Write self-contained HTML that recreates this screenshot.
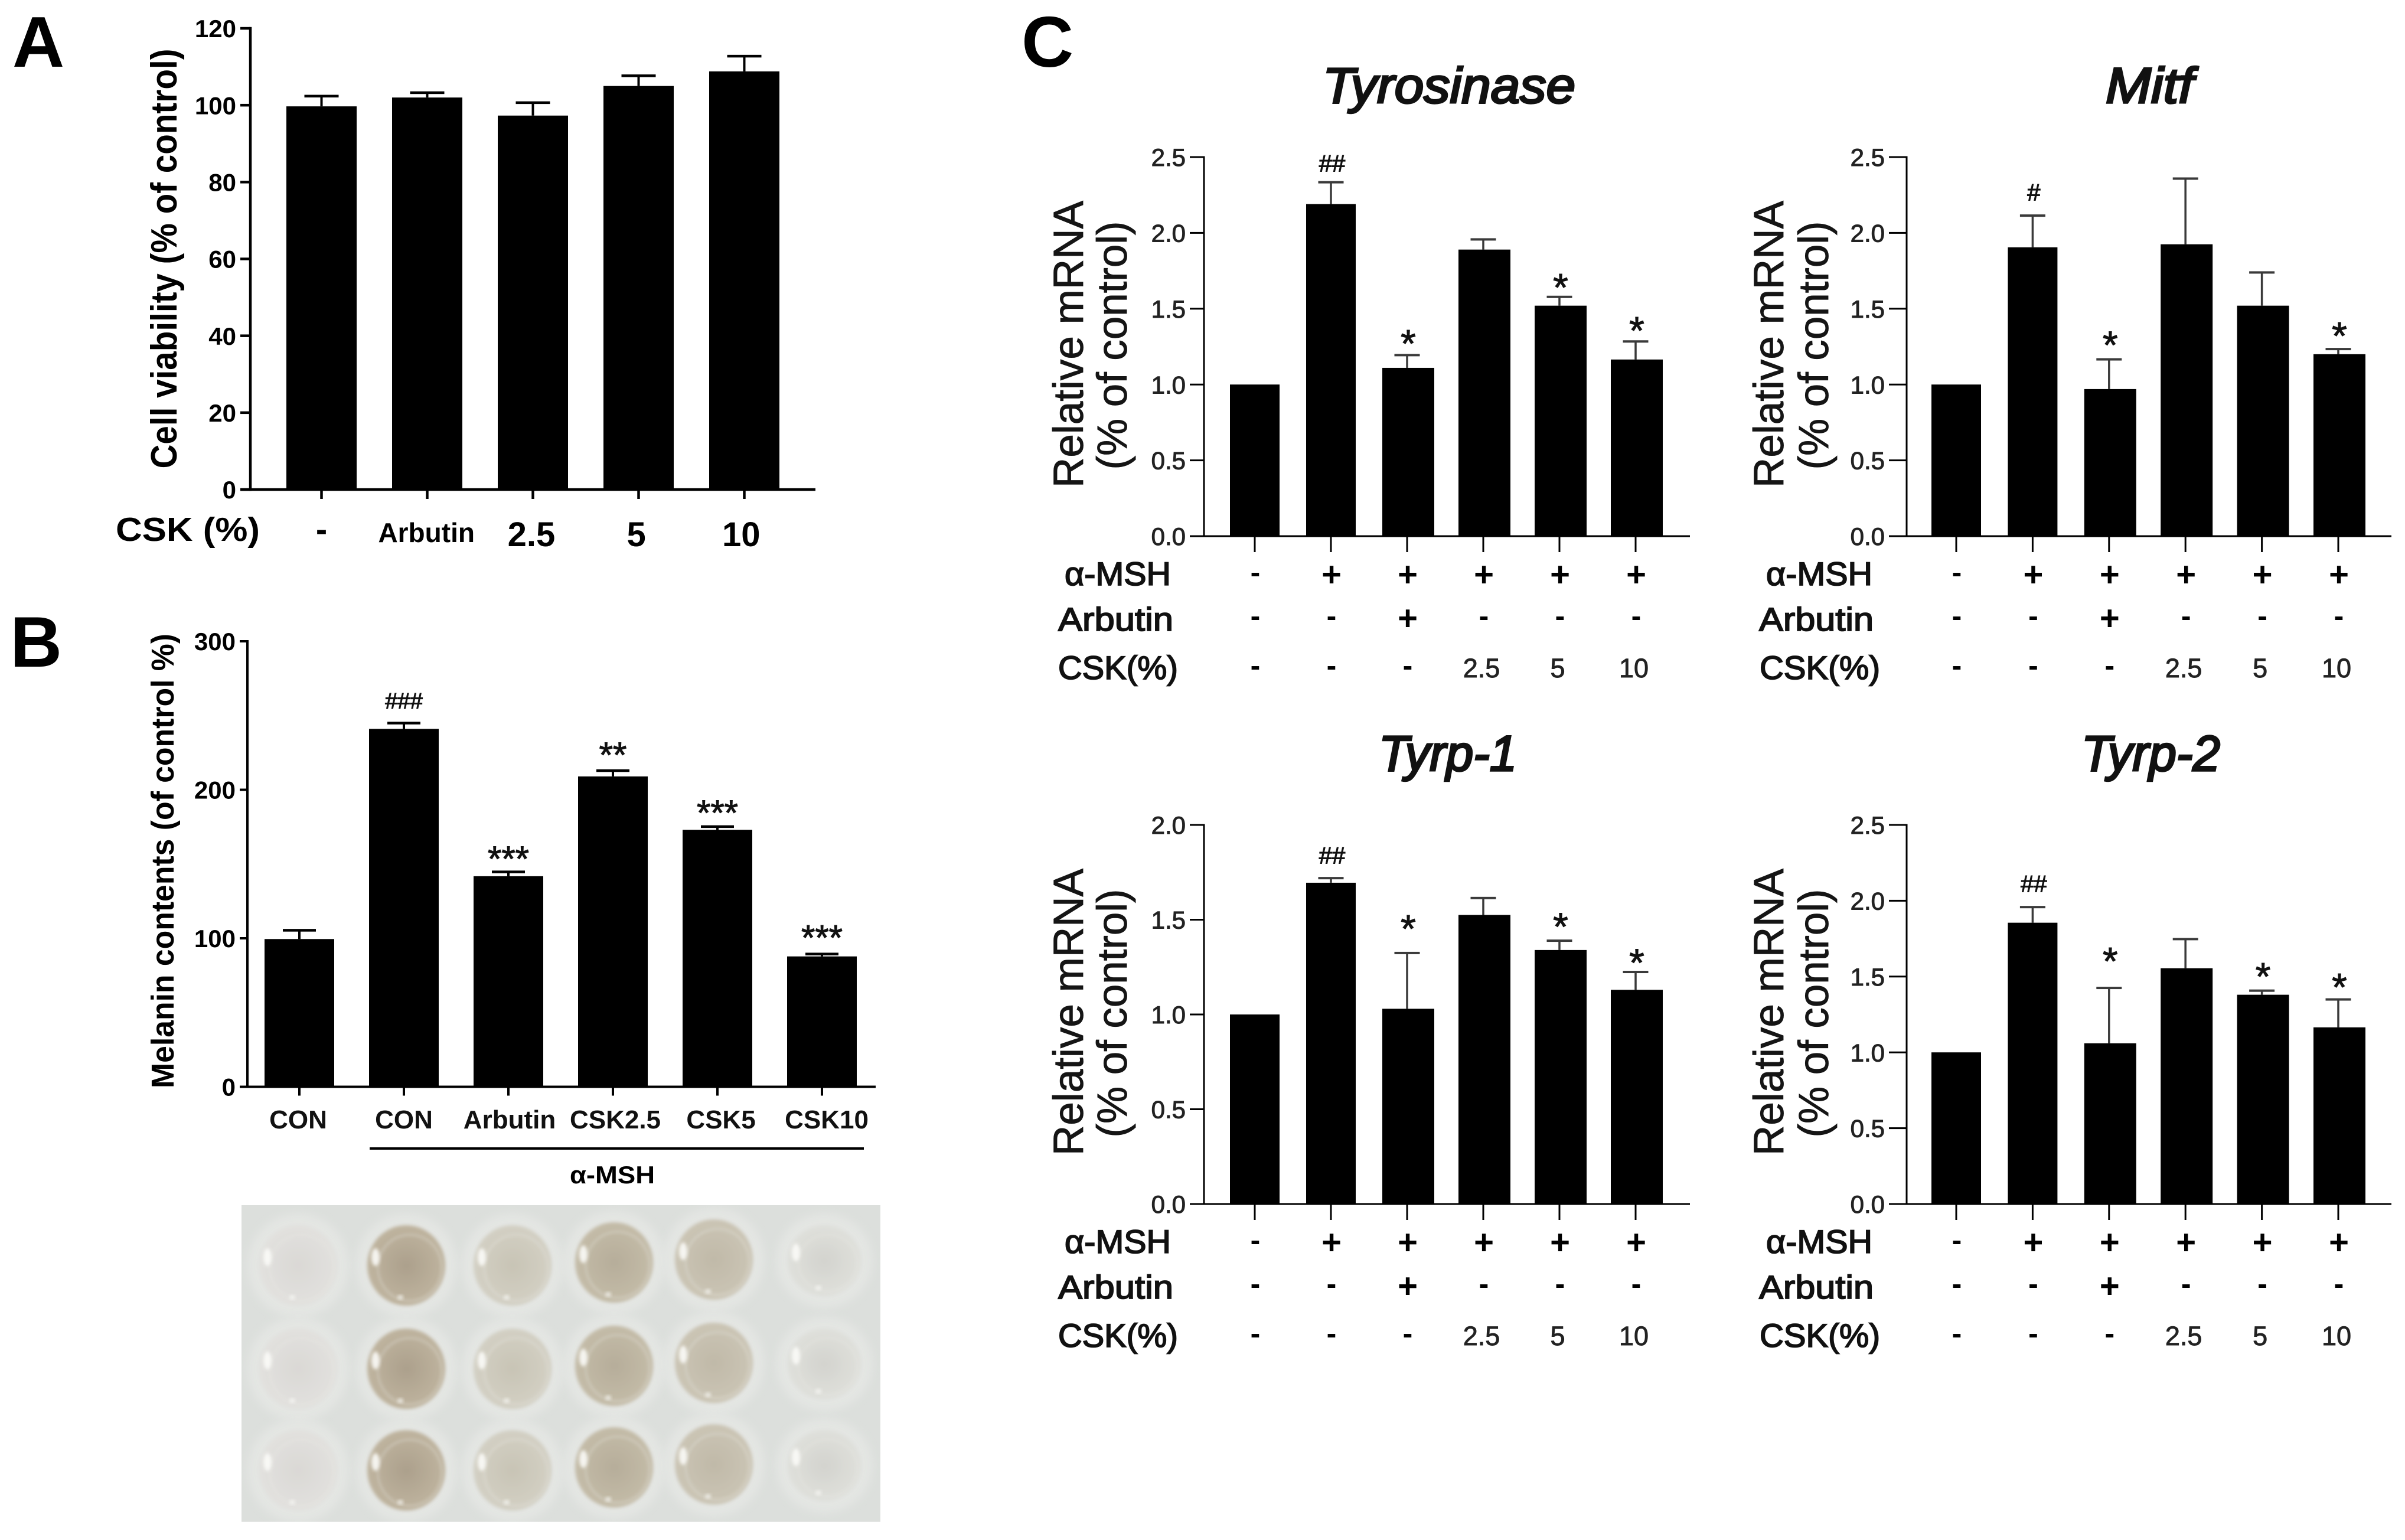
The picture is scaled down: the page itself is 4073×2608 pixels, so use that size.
<!DOCTYPE html>
<html lang="en">
<head>
<meta charset="utf-8">
<title>CSK cell viability, melanin content and mRNA expression</title>
<style>
  html,body{margin:0;padding:0;background:#fff;}
  svg{display:block;}
  text{font-family:"Liberation Sans",Arial,sans-serif;fill:#000;}
  .panel-letter{font-weight:bold;font-size:122px;}
  .bold-title{font-weight:bold;}
  .gene-title{font-style:italic;font-size:84px;fill:#111;stroke:#111;stroke-width:3.4px;}
  .mrna-axis{font-size:71px;fill:#151515;stroke:#151515;stroke-width:.9px;}
  .row-label{font-size:56px;fill:#111;stroke:#111;stroke-width:1.8px;}
</style>
</head>
<body>
<svg id="figure" xmlns="http://www.w3.org/2000/svg" width="4073" height="2608" viewBox="0 0 4073 2608">
  <defs>
    <filter id="soft" x="-30%" y="-30%" width="160%" height="160%"><feGaussianBlur stdDeviation="3"/></filter>
    <filter id="softer" x="-30%" y="-30%" width="160%" height="160%"><feGaussianBlur stdDeviation="7"/></filter>
    <clipPath id="photo-clip"><rect x="409" y="2041" width="1082" height="536"/></clipPath>
  </defs>
  <rect width="4073" height="2608" fill="#fff"/>

  <text class="panel-letter" x="21" y="113">A</text>
  <text class="panel-letter" x="17" y="1129">B</text>
  <text class="panel-letter" x="1730" y="113">C</text>

  <g id="panel-a">
    <text class="bold-title" font-size="62" text-anchor="middle" textLength="711" lengthAdjust="spacingAndGlyphs" transform="translate(299,438) rotate(-90)">Cell viability (% of control)</text>
    <text class="bold-title" font-size="57" x="196" y="916" textLength="244" lengthAdjust="spacingAndGlyphs">CSK (%)</text>
  </g>

  <g id="panel-b">
    <text class="bold-title" font-size="54" text-anchor="middle" textLength="770" lengthAdjust="spacingAndGlyphs" transform="translate(294,1458) rotate(-90)">Melanin contents (of control %)</text>
    <rect x="626" y="1943" width="837" height="4" fill="#000"/>
    <text class="bold-title" font-size="42" x="1037" y="2004" text-anchor="middle" textLength="144" lengthAdjust="spacingAndGlyphs">α-MSH</text>
  </g>

  <g id="well-photo" clip-path="url(#photo-clip)">
    <rect x="409" y="2041" width="1082" height="536" fill="#dcdfdc"/>
  </g>

  <g id="panel-tyrosinase">
    <text class="gene-title" x="2240" y="174" textLength="428" lengthAdjust="spacingAndGlyphs">Tyrosinase</text>
    <text class="mrna-axis" text-anchor="middle" textLength="486" lengthAdjust="spacingAndGlyphs" transform="translate(1834,583) rotate(-90)">Relative mRNA</text>
    <text class="mrna-axis" text-anchor="middle" textLength="421" lengthAdjust="spacingAndGlyphs" transform="translate(1908,585) rotate(-90)">(% of control)</text>
    <text class="row-label" x="1803" y="991" textLength="180" lengthAdjust="spacingAndGlyphs">α-MSH</text>
    <text class="row-label" x="1792" y="1068" textLength="195" lengthAdjust="spacingAndGlyphs">Arbutin</text>
    <text class="row-label" x="1792" y="1150" textLength="203" lengthAdjust="spacingAndGlyphs">CSK(%)</text>
  </g>

  <g id="panel-mitf">
    <text class="gene-title" x="3566" y="174" textLength="149" lengthAdjust="spacingAndGlyphs">Mitf</text>
    <text class="mrna-axis" text-anchor="middle" textLength="486" lengthAdjust="spacingAndGlyphs" transform="translate(3020,583) rotate(-90)">Relative mRNA</text>
    <text class="mrna-axis" text-anchor="middle" textLength="421" lengthAdjust="spacingAndGlyphs" transform="translate(3096,585) rotate(-90)">(% of control)</text>
    <text class="row-label" x="2991" y="991" textLength="180" lengthAdjust="spacingAndGlyphs">α-MSH</text>
    <text class="row-label" x="2979" y="1068" textLength="194" lengthAdjust="spacingAndGlyphs">Arbutin</text>
    <text class="row-label" x="2980" y="1150" textLength="204" lengthAdjust="spacingAndGlyphs">CSK(%)</text>
  </g>

  <g id="panel-tyrp1">
    <text class="gene-title" x="2335" y="1305" textLength="234" lengthAdjust="spacingAndGlyphs">Tyrp-1</text>
    <text class="mrna-axis" text-anchor="middle" textLength="486" lengthAdjust="spacingAndGlyphs" transform="translate(1834,1714) rotate(-90)">Relative mRNA</text>
    <text class="mrna-axis" text-anchor="middle" textLength="421" lengthAdjust="spacingAndGlyphs" transform="translate(1908,1716) rotate(-90)">(% of control)</text>
    <text class="row-label" x="1803" y="2122" textLength="180" lengthAdjust="spacingAndGlyphs">α-MSH</text>
    <text class="row-label" x="1792" y="2199" textLength="195" lengthAdjust="spacingAndGlyphs">Arbutin</text>
    <text class="row-label" x="1792" y="2281" textLength="203" lengthAdjust="spacingAndGlyphs">CSK(%)</text>
  </g>

  <g id="panel-tyrp2">
    <text class="gene-title" x="3525" y="1305" textLength="235" lengthAdjust="spacingAndGlyphs">Tyrp-2</text>
    <text class="mrna-axis" text-anchor="middle" textLength="486" lengthAdjust="spacingAndGlyphs" transform="translate(3020,1714) rotate(-90)">Relative mRNA</text>
    <text class="mrna-axis" text-anchor="middle" textLength="421" lengthAdjust="spacingAndGlyphs" transform="translate(3096,1716) rotate(-90)">(% of control)</text>
    <text class="row-label" x="2991" y="2122" textLength="180" lengthAdjust="spacingAndGlyphs">α-MSH</text>
    <text class="row-label" x="2979" y="2199" textLength="194" lengthAdjust="spacingAndGlyphs">Arbutin</text>
    <text class="row-label" x="2980" y="2281" textLength="204" lengthAdjust="spacingAndGlyphs">CSK(%)</text>
  </g>
</svg>

<script>
// ---------- chart data ----------
const viabilityCategories = ['-', 'Arbutin', '2.5', '5', '10'];
const viabilityValues = [99.7, 102, 97.3, 105, 108.8];
const viabilityErrors = [2.7, 1.3, 3.4, 2.7, 4.0];
const viabilityTicks = ['0', '20', '40', '60', '80', '100', '120'];

const melaninCategories = ['CON', 'CON', 'Arbutin', 'CSK2.5', 'CSK5', 'CSK10'];
const melaninValues = [99.5, 241, 141.8, 209, 173, 87.8];
const melaninErrors = [6, 4, 3, 4, 2.3, 1.7];
const melaninTicks = ['0', '100', '200', '300'];
const melaninMarks = ['', '###', '***', '**', '***', '***'];
const melaninMarkLevels = [0, 260, 159, 229, 190, 106];

const alphaMshRow = ['-', '+', '+', '+', '+', '+'];
const arbutinRow = ['-', '-', '+', '-', '-', '-'];
const cskRow = ['-', '-', '-', '2.5', '5', '10'];

const tyrosinaseValues = [1.0, 2.19, 1.11, 1.89, 1.52, 1.165];
const tyrosinaseErrors = [0, 0.145, 0.085, 0.068, 0.059, 0.12];
const tyrosinaseTicks = ['0.0', '0.5', '1.0', '1.5', '2.0', '2.5'];
const tyrosinaseMarks = ['', '##', '*', '', '*', '*'];
const tyrosinaseMarkLevels = [0, 2.46, 1.33, 0, 1.70, 1.415];

const mitfValues = [1.0, 1.905, 0.97, 1.925, 1.52, 1.2];
const mitfErrors = [0, 0.21, 0.197, 0.434, 0.22, 0.035];
const mitfTicks = ['0.0', '0.5', '1.0', '1.5', '2.0', '2.5'];
const mitfMarks = ['', '#', '*', '', '', '*'];
const mitfMarkLevels = [0, 2.268, 1.32, 0, 0, 1.38];

const tyrp1Values = [1.0, 1.695, 1.03, 1.525, 1.34, 1.13];
const tyrp1Errors = [0, 0.025, 0.295, 0.09, 0.05, 0.095];
const tyrp1Ticks = ['0.0', '0.5', '1.0', '1.5', '2.0'];
const tyrp1Marks = ['', '##', '*', '', '*', '*'];
const tyrp1MarkLevels = [0, 1.84, 1.50, 0, 1.51, 1.32];

const tyrp2Values = [1.0, 1.855, 1.06, 1.555, 1.38, 1.165];
const tyrp2Errors = [0, 0.104, 0.366, 0.193, 0.028, 0.185];
const tyrp2Ticks = ['0.0', '0.5', '1.0', '1.5', '2.0', '2.5'];
const tyrp2Marks = ['', '##', '*', '', '*', '*'];
const tyrp2MarkLevels = [0, 2.112, 1.66, 0, 1.56, 1.49];

// ---------- helpers ----------
const SVGNS = 'http://www.w3.org/2000/svg';
function add(parent, tag, attrs, text) {
  const el = document.createElementNS(SVGNS, tag);
  for (const k in attrs) el.setAttribute(k, attrs[k]);
  if (text !== undefined) el.textContent = text;
  parent.appendChild(el);
  return el;
}

function drawAxes(g, c, ticks) {
  const y = v => c.yBottom - (v / c.yMax) * (c.yBottom - c.yTop);
  const x = i => c.xFirst + i * c.xStep;
  const yAxis = add(g, 'rect', {x: c.axisX - c.lw / 2, y: c.yTop - c.lw / 2, width: c.lw, height: c.yBottom - c.yTop + c.lw, fill: '#000'});
  
  
  const xAxis = add(g, 'rect', {x: c.xAxisStart, y: c.yBottom - c.lw / 2, width: c.xAxisEnd - c.xAxisStart, height: c.lw, fill: '#000'});
  
  
  ticks.forEach(label => {
    const v = Number(label);
    const tick = add(g, 'rect', {x: c.xAxisStart, y: y(v) - c.lw / 2, width: c.axisX - c.xAxisStart, height: c.lw, fill: '#000'});
    
    
    const tl = add(g, 'text', Object.assign({x: c.xAxisStart - 7, y: y(v) + c.tickFont * 0.36, 'text-anchor': 'end', 'font-size': c.tickFont, style: c.tickStyle}), label);
    
    
  });
  for (let i = 0; i < c.count; i++) {
    const tick = add(g, 'rect', {x: x(i) - c.lw / 2, y: c.yBottom, width: c.lw, height: c.tickLen, fill: '#000'});
    
    
  }
  return {x, y};
}

function drawBars(g, c, s, values, errors) {
  values.forEach((v, i) => {
    const w = c.barWidth(i);
    const left = s.x(i) - c.barLeft;
    const top = s.y(v);
    if (errors[i] > 0) {
      const errTop = s.y(v + errors[i]);
      const stem = add(g, 'rect', {x: s.x(i) - c.errW / 2, y: errTop, width: c.errW, height: top - errTop, fill: c.errColor});
      
      
      const cap = add(g, 'rect', {x: s.x(i) - c.capW / 2, y: errTop - c.errW / 2, width: c.capW, height: c.errW + 0.5, fill: c.errColor});
      
      
    }
    const bar = add(g, 'rect', {x: left, y: top, width: w, height: c.yBottom - top, fill: '#000'});
    
    
  });
}

function drawMarks(g, c, s, marks, levels) {
  marks.forEach((m, i) => {
    if (!m) return;
    const hash = m[0] === '#';
    const size = hash ? c.hashFont : c.starFont;
    const baseline = s.y(levels[i]) + size * (hash ? 0.35 : 0.575);
    const t = add(g, 'text', {x: s.x(i) + c.markDx, y: baseline, 'text-anchor': 'middle', 'font-size': size, style: 'fill:#111;stroke:#111;stroke-width:1.1px'}, m);
    
    
  });
}

function drawSignRow(g, c, s, row, rowCenterY, rowName) {
  row.forEach((m, i) => {
    let size, base, style;
    if (m === '+') { size = 58; base = rowCenterY + size * 0.34; style = 'font-weight:bold'; }
    else if (m === '-') { size = 50; base = rowCenterY + size * 0.26; style = 'font-weight:bold'; }
    else { size = 45; base = rowCenterY + 16; style = 'fill:#222;stroke:#222;stroke-width:.9px'; }
    const dx = m === '+' || m === '-' ? 1 : -3;
    const t = add(g, 'text', {x: s.x(i) + dx, y: base, 'text-anchor': 'middle', 'font-size': size, style}, m);
    
    
  });
}

function mrnaConfig(key, col, offset, yMax) {
  const left = col === 0;
  return {
    key, yMax, count: 6,
    yTop: 266 + offset, yBottom: 908 + offset,
    axisX: left ? 2039 : 3229,
    xAxisStart: left ? 2015 : 3199,
    xAxisEnd: left ? 2862 : 4050,
    xFirst: left ? 2125 : 3313,
    xStep: left ? 129 : 129.4,
    lw: 3, tickLen: 27, tickFont: 42,
    tickStyle: 'fill:#222;stroke:#222;stroke-width:1px',
    barLeft: 42,
    barWidth: i => (i < 2 ? 84 : 88),
    errW: 3.5, capW: 43, errColor: '#3a3a3a',
    hashFont: 40, starFont: 66, markDx: 2
  };
}

function drawMrna(id, c, ticks, values, errors, marks, levels, offset) {
  const g = document.getElementById(id);
  const s = drawAxes(g, c, ticks);
  drawBars(g, c, s, values, errors);
  drawMarks(g, c, s, marks, levels);
  drawSignRow(g, c, s, alphaMshRow, 973 + offset, 'alpha-msh');
  drawSignRow(g, c, s, arbutinRow, 1047 + offset, 'arbutin');
  drawSignRow(g, c, s, cskRow, 1131 + offset, 'csk');
}

// ---------- panel A ----------
(function () {
  const c = {key: 'viability', yMax: 120, count: 5, yTop: 48, yBottom: 829, axisX: 424, xAxisStart: 407, xAxisEnd: 1381,
    xFirst: 544.5, xStep: 179, lw: 4.5, tickLen: 16, tickFont: 42, tickStyle: 'font-weight:bold',
    barLeft: 59.5, barWidth: () => 119, errW: 4, capW: 58, errColor: '#000'};
  const g = document.getElementById('panel-a');
  const s = drawAxes(g, c, viabilityTicks);
  drawBars(g, c, s, viabilityValues, viabilityErrors);
  viabilityCategories.forEach((label, i) => {
    const small = label === 'Arbutin';
    const t = add(g, 'text', {x: s.x(i) - i * 1.3, y: small ? 918 : (label === '-' ? 916 : 925), 'text-anchor': 'middle', 'font-size': small ? 46 : 58, style: 'font-weight:bold'}, label);
    
    
  });
})();

// ---------- panel B ----------
(function () {
  const c = {key: 'melanin', yMax: 300, count: 6, yTop: 1086, yBottom: 1840.5, axisX: 419, xAxisStart: 406, xAxisEnd: 1483,
    xFirst: 507, xStep: 177, lw: 4, tickLen: 15, tickFont: 42, tickStyle: 'font-weight:bold',
    barLeft: 59, barWidth: () => 118, errW: 4, capW: 56, errColor: '#000', hashFont: 38, starFont: 60, markDx: 0};
  const g = document.getElementById('panel-b');
  const s = drawAxes(g, c, melaninTicks);
  drawBars(g, c, s, melaninValues, melaninErrors);
  drawMarks(g, c, s, melaninMarks, melaninMarkLevels);
  melaninCategories.forEach((label, i) => {
    const t = add(g, 'text', {x: 505 + i * 179, y: 1911, 'text-anchor': 'middle', 'font-size': 44, style: 'font-weight:bold;fill:#111'}, label);
    
    
  });
})();

// ---------- panel C ----------
drawMrna('panel-tyrosinase', mrnaConfig('tyrosinase', 0, 0, 2.5), tyrosinaseTicks, tyrosinaseValues, tyrosinaseErrors, tyrosinaseMarks, tyrosinaseMarkLevels, 0);
drawMrna('panel-mitf', mrnaConfig('mitf', 1, 0, 2.5), mitfTicks, mitfValues, mitfErrors, mitfMarks, mitfMarkLevels, 0);
drawMrna('panel-tyrp1', mrnaConfig('tyrp-1', 0, 1131, 2), tyrp1Ticks, tyrp1Values, tyrp1Errors, tyrp1Marks, tyrp1MarkLevels, 1131);
drawMrna('panel-tyrp2', mrnaConfig('tyrp-2', 1, 1131, 2.5), tyrp2Ticks, tyrp2Values, tyrp2Errors, tyrp2Marks, tyrp2MarkLevels, 1131);

// ---------- well plate photograph (illustrative) ----------
(function () {
  const photo = document.getElementById('well-photo');
  const defs = document.querySelector('defs');
  const colX = [505, 688, 868, 1040, 1209, 1396];
  const colLift = [0, 0, 0, -5, -10, -8];
  const rowY = [2143, 2318, 2490];
  const liquidCentre = ['#dad8d5', '#aca08c', '#c8c4b5', '#b6ad9a', '#c0b9a8', '#d3d3ce'];
  const liquidEdge = ['#e2e1de', '#bfb49f', '#d3d0c4', '#c4bca8', '#cbc5b5', '#dfe0db'];
  liquidCentre.forEach((col, i) => {
    const grad = add(defs, 'radialGradient', {id: 'liquid-' + i});
    add(grad, 'stop', {offset: '0%', 'stop-color': col});
    add(grad, 'stop', {offset: '100%', 'stop-color': liquidEdge[i]});
  });
  rowY.forEach((ry, r) => {
    colX.forEach((cx, c) => {
      const cy = ry + colLift[c];
      const rx = c === 5 ? 62 : 66;
      const rY = c === 5 ? 60 : 68;
      const rim = add(photo, 'ellipse', {cx, cy, rx: rx + 20, ry: rY + 20, fill: '#e5e7e4', opacity: 0.85, filter: 'url(#softer)'});
      
      
      const liquid = add(photo, 'ellipse', {cx, cy, rx, ry: rY, fill: 'url(#liquid-' + c + ')', filter: 'url(#soft)'});
      
      
      const ring = add(photo, 'ellipse', {cx: cx + 6, cy: cy + 4, rx: rx - 12, ry: rY - 12, fill: 'none', stroke: '#e9e9e4', 'stroke-width': 3, opacity: 0.4, filter: 'url(#soft)'});
      
      
      const glare = add(photo, 'ellipse', {cx: cx - rx + 14, cy: cy - 14, rx: 7, ry: 15, fill: '#fbfbf8', opacity: 0.9, filter: 'url(#soft)'});
      
      
      const glareLow = add(photo, 'ellipse', {cx: cx - 10, cy: cy + rY - 14, rx: 5, ry: 4, fill: '#fbfbf8', opacity: 0.7, filter: 'url(#soft)'});
      
      
    });
  });
})();
</script>
</body>
</html>
